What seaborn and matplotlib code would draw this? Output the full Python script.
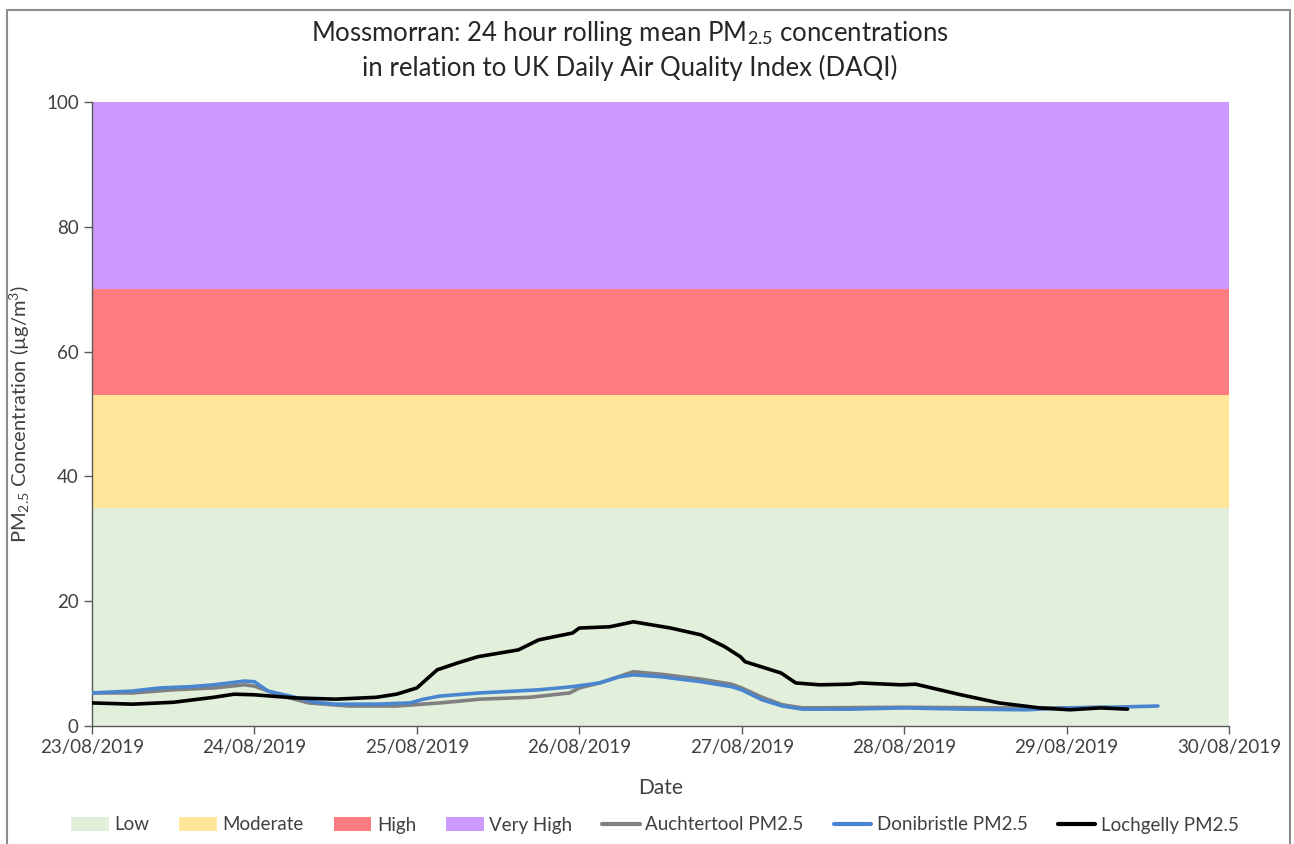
import pandas as pd
import numpy as np
import matplotlib
matplotlib.use("Agg")
import matplotlib.pyplot as plt
import matplotlib.dates as mdates
from matplotlib.patches import Patch, Rectangle
from matplotlib.lines import Line2D
import seaborn as sns

# data (hours after 23/08/2019 00:00, 24h rolling mean in ug/m3)
start = pd.Timestamp("2019-08-23")

loch_hours = [0, 6, 12, 18, 21, 24, 30, 36, 42, 45, 48, 51, 54, 57, 63, 66, 71, 72, 76.5,
              80, 85.5, 90, 93.5, 95.8, 96.5, 101.8, 104, 107.5, 112, 113.5, 119.5, 121.7,
              128.4, 134, 140, 144.5, 149, 153]
loch_vals = [3.7, 3.5, 3.8, 4.6, 5.1, 5.0, 4.5, 4.3, 4.6, 5.1, 6.1, 9.0, 10.1, 11.1, 12.2,
             13.8, 14.9, 15.7, 15.9, 16.7, 15.7, 14.6, 12.7, 11.1, 10.3, 8.5, 6.9, 6.6, 6.7,
             6.9, 6.6, 6.7, 5.0, 3.7, 2.9, 2.6, 2.9, 2.7]

doni_hours = [0, 6, 10, 14.5, 18, 22.5, 24, 26, 30, 33, 36, 42, 47, 49, 51.4, 57.3, 66, 71,
              75, 78, 80, 84, 90, 94.5, 96, 99, 102, 105, 112, 120, 129, 138, 144, 150, 157.5]
doni_vals = [5.3, 5.6, 6.1, 6.3, 6.6, 7.2, 7.1, 5.6, 4.6, 3.8, 3.5, 3.5, 3.7, 4.3, 4.8, 5.3,
             5.8, 6.3, 6.9, 7.9, 8.2, 7.9, 7.1, 6.3, 5.8, 4.2, 3.2, 2.7, 2.7, 2.9, 2.7, 2.6,
             2.9, 3.0, 3.2]

auch_hours = [0, 6, 12, 18, 22.5, 24, 27.5, 32, 38, 45, 51.4, 57.3, 64.7, 70.6, 72, 75, 80,
              84, 90, 94.5, 96, 99, 102, 105, 120, 135, 144, 150]
auch_vals = [5.3, 5.3, 5.8, 6.1, 6.6, 6.4, 5.0, 3.7, 3.2, 3.2, 3.7, 4.3, 4.6, 5.3, 6.1, 6.9,
             8.7, 8.3, 7.5, 6.7, 6.1, 4.6, 3.4, 2.9, 3.0, 2.9, 2.9, 3.0]

band_names = ["Low", "Moderate", "High", "Very High"]
band_edges = [0, 35, 53, 70, 100]
band_colors = ["#e2efda", "#ffe699", "#ff7c80", "#cc99ff"]

series_names = ["Auchtertool PM2.5", "Donibristle PM2.5", "Lochgelly PM2.5"]
series_colors = ["#808080", "#4a86cf", "#000000"]

frames = []
for name, hrs, vals in zip(series_names, [auch_hours, doni_hours, loch_hours],
                           [auch_vals, doni_vals, loch_vals]):
    frames.append(pd.DataFrame({"Date": start + pd.to_timedelta(hrs, unit="h"),
                                "value": vals, "site": name}))
df = pd.concat(frames, ignore_index=True)

sns.set_style("white")
plt.rcParams["font.family"] = ["Lato", "DejaVu Sans"]
plt.rcParams["mathtext.fontset"] = "custom"
plt.rcParams["mathtext.rm"] = "Lato"
plt.rcParams["mathtext.it"] = "Lato:italic"

fig = plt.figure(figsize=(12.94, 8.44), dpi=100)
ax = fig.add_axes([92 / 1294, 118 / 844, (1229 - 92) / 1294, (726 - 102) / 844])

for i in range(len(band_names)):
    ax.axhspan(band_edges[i], band_edges[i + 1], color=band_colors[i], lw=0, zorder=0)

sns.lineplot(data=df, x="Date", y="value", hue="site", palette=series_colors,
             hue_order=series_names, linewidth=2.6, legend=False, ax=ax, zorder=3)

ax.set_xlim(start, start + pd.Timedelta(days=7))
ax.set_ylim(0, 100)
ax.set_yticks(np.arange(0, 101, 20))
ax.xaxis.set_major_locator(mdates.DayLocator())
ax.xaxis.set_major_formatter(mdates.DateFormatter("%d/%m/%Y"))
ax.tick_params(axis="both", direction="out", length=6, width=1, color="#595959",
               labelsize=13.5, labelcolor="#404040", bottom=True, left=True)
for s in ["top", "right"]:
    ax.spines[s].set_visible(False)
for s in ["left", "bottom"]:
    ax.spines[s].set_color("#595959")
    ax.spines[s].set_linewidth(1)

ax.set_xlabel("Date", fontsize=15, color="#404040", labelpad=16)
ax.set_ylabel("PM$_{2.5}$ Concentration (µg/m$^3$)", fontsize=14.5, color="#404040",
              labelpad=10)

fig.text(630 / 1294, 1 - 33 / 844, "Mossmorran: 24 hour rolling mean PM$_{2.5}$ concentrations",
         ha="center", va="center", fontsize=18.5, color="#262626")
fig.text(630 / 1294, 1 - 68 / 844, "in relation to UK Daily Air Quality Index (DAQI)",
         ha="center", va="center", fontsize=18.5, color="#262626")

handles = [Patch(facecolor=c, edgecolor="none") for c in band_colors]
handles += [Line2D([0], [0], color=c, lw=3) for c in series_colors]
fig.legend(handles, band_names + series_names, loc="center", bbox_to_anchor=(655 / 1294, 1 - 825 / 844),
           ncol=7, frameon=False, fontsize=13.5, handlelength=2.0, handletextpad=0.3,
           columnspacing=1.6, labelcolor="#404040")

fig.patches.append(Rectangle((7 / 1294, -0.05), 1283 / 1294, 1.05 - 10 / 844,
                             transform=fig.transFigure, fill=False, edgecolor="#8c8c8c",
                             lw=1.5))

fig.savefig("out.png", dpi=100)
